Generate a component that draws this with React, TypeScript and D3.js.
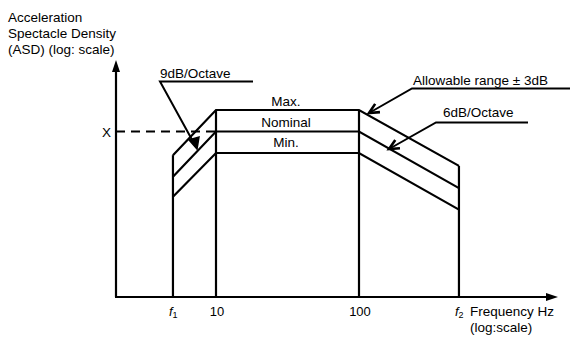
import React from "react";
import * as d3 from "d3";

// Break frequencies (Hz): f1, 10, 100, f2
const freqs = [5, 10, 100, 500];
// Levels in dB relative to nominal plateau
const maxLevel = [-3.3, 3, 3, -4.8];
const nominalLevel = [-6.3, 0, 0, -7.9];
const minLevel = [-9.1, -3, -3, -10.9];
const tickLabels = ["f1", "10", "100", "f2"];
const bandLabels = ["Max.", "Nominal", "Min."];
const xRefLevel = 0;

const W = 570, H = 337;
const axisX = 116, axisY = 297, axisTop = 60, axisRight = 558;

const x = d3.scaleLog().domain([10, 100]).range([216, 359]);
const y = d3.scaleLinear().domain([-3, 3]).range([153, 110]);

const lineGen = d3.line<[number, number]>().x(d => d[0]).y(d => d[1]);

function series(levels: number[]) {
  return lineGen(freqs.map((f, i) => [x(f), y(levels[i])] as [number, number])) || "";
}

function chevron(tipX: number, tipY: number, fromX: number, fromY: number, len = 11, ang = 0.45) {
  const a = Math.atan2(fromY - tipY, fromX - tipX);
  const p1 = [tipX + len * Math.cos(a + ang), tipY + len * Math.sin(a + ang)];
  const p2 = [tipX + len * Math.cos(a - ang), tipY + len * Math.sin(a - ang)];
  return `M${p1[0]},${p1[1]}L${tipX},${tipY}L${p2[0]},${p2[1]}`;
}

const font = "'Liberation Sans', Arial, Helvetica, sans-serif";

export default function App() {
  const bandY = [105.5, 126.5, 147];
  return (
    <svg width={W} height={H} style={{ position: "absolute", left: 0, top: 0, background: "#fff", fontFamily: font }} fontFamily={font}>
      {/* Y-axis title */}
      <g fontSize={13.5} fill="#000">
        <text x={8} y={22}>Acceleration</text>
        <text x={8} y={38}>Spectacle Density</text>
        <text x={8} y={54}>(ASD) (log: scale)</text>
      </g>
      {/* axes */}
      <line x1={axisX} y1={axisY} x2={axisX} y2={axisTop + 8} stroke="#000" strokeWidth={2.2} />
      <path d={`M${axisX},${axisTop}L${axisX - 4},${axisTop + 12}L${axisX + 4},${axisTop + 12}Z`} fill="#000" />
      <line x1={axisX - 1} y1={axisY} x2={axisRight - 8} y2={axisY} stroke="#000" strokeWidth={2.2} />
      <path d={`M${axisRight},${axisY}L${axisRight - 12},${axisY - 4}L${axisRight - 12},${axisY + 4}Z`} fill="#000" />

      {/* verticals */}
      {freqs.map((f, i) => (
        <line key={i} x1={x(f)} x2={x(f)} y1={y(maxLevel[i])} y2={axisY} stroke="#000" strokeWidth={2.2} />
      ))}
      {/* profile lines */}
      {[maxLevel, nominalLevel, minLevel].map((lv, i) => (
        <path key={i} d={series(lv)} fill="none" stroke="#000" strokeWidth={2.2} strokeLinejoin="miter" />
      ))}

      {/* X reference dashed */}
      <line x1={axisX} x2={x(10)} y1={y(xRefLevel)} y2={y(xRefLevel)} stroke="#000" strokeWidth={2} strokeDasharray="9,6" />
      <text x={102} y={y(xRefLevel) + 5} fontSize={13.5}>X</text>

      {/* band labels */}
      <g fontSize={13.5} textAnchor="middle">
        {bandLabels.map((b, i) => (
          <text key={b} x={286} y={bandY[i]}>{b}</text>
        ))}
      </g>

      {/* 9dB/Octave annotation */}
      <text x={160} y={78} fontSize={13.5}>9dB/Octave</text>
      <path d="M253,81.5L160,81.5L196,147" fill="none" stroke="#000" strokeWidth={2} />
      <path d={`M197,149L189,140L199,137Z`} fill="#000" stroke="#000" strokeWidth={1.5} />

      {/* Allowable range annotation */}
      <text x={413} y={85} fontSize={13.5}>Allowable range ±  3dB</text>
      <path d="M570,88.5L412,88.5L369,113" fill="none" stroke="#000" strokeWidth={2} />
      <path d={chevron(369, 113, 412, 88)} fill="none" stroke="#000" strokeWidth={2.6} />

      {/* 6dB/Octave annotation */}
      <text x={443} y={117} fontSize={13.5}>6dB/Octave</text>
      <path d="M528,122.5L436,122.5L389,149" fill="none" stroke="#000" strokeWidth={2} />
      <path d={chevron(389, 149, 436, 122.5)} fill="none" stroke="#000" strokeWidth={2.6} />

      {/* tick labels */}
      {tickLabels.map((t, i) => {
        const fx = x(freqs[i]);
        if (t.startsWith("f")) {
          return (
            <text key={i} x={fx - 4} y={316} fontSize={13} fontFamily={font}>
              <tspan fontStyle="italic">f</tspan>
              <tspan fontSize={9} dy={2}>{t.slice(1)}</tspan>
            </text>
          );
        }
        return <text key={i} x={fx + 1} y={316} fontSize={13} fontFamily={font} textAnchor="middle">{t}</text>;
      })}
      <text x={470} y={316} fontSize={13.5}>Frequency Hz</text>
      <text x={470} y={332} fontSize={13.5}>(log:scale)</text>
    </svg>
  );
}
